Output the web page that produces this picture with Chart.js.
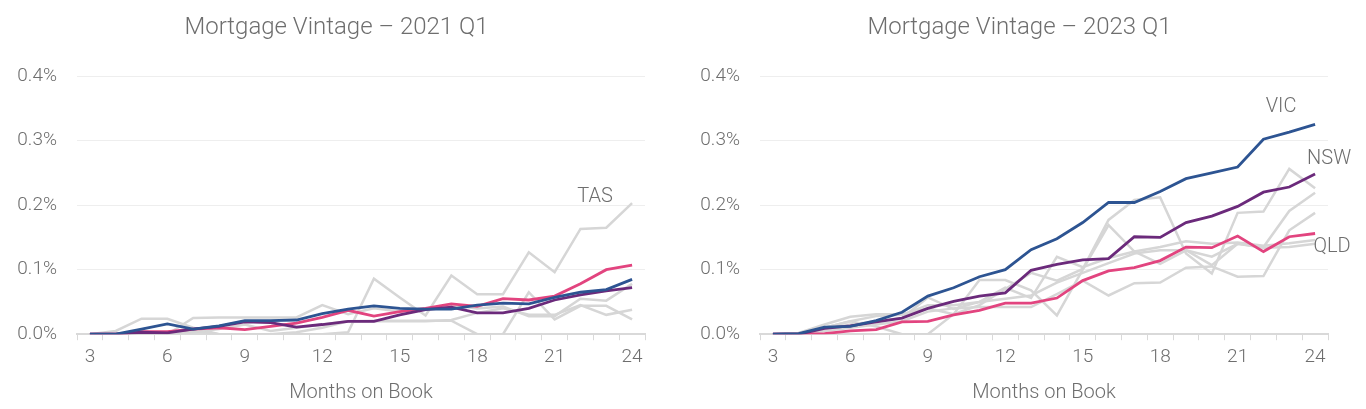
<!DOCTYPE html>
<html>
<head>
<meta charset="utf-8">
<script src="https://cdn.jsdelivr.net/npm/chart.js@4.4.0/dist/chart.umd.min.js"></script>
<style>
  body { margin: 0; background: #fff; }
  .wrap { display: flex; width: 1366px; height: 409px; }
  canvas { display: block; }
</style>
</head>
<body>
<div class="wrap">
  <canvas id="c2021" width="683" height="409"></canvas>
  <canvas id="c2023" width="683" height="409"></canvas>
</div>
<script>
// months on book, shared by both panels
const months = [3, 4, 5, 6, 7, 8, 9, 10, 11, 12, 13, 14, 15, 16, 17, 18, 19, 20, 21, 22, 23, 24];
const yTicks = [0, 0.1, 0.2, 0.3, 0.4];

// 2021 Q1 vintage (% in arrears)
const vic2021 = [0, 0, 0.008, 0.016, 0.008, 0.013, 0.021, 0.021, 0.022, 0.032, 0.039, 0.044, 0.040, 0.039, 0.039, 0.045, 0.048, 0.047, 0.057, 0.065, 0.069, 0.085];
const nsw2021 = [0, 0, 0.003, 0.002, 0.008, 0.012, 0.019, 0.018, 0.011, 0.015, 0.020, 0.020, 0.030, 0.038, 0.042, 0.033, 0.033, 0.040, 0.053, 0.061, 0.067, 0.072];
const qld2021 = [0, 0, 0.004, 0.004, 0.008, 0.010, 0.007, 0.012, 0.017, 0.026, 0.037, 0.028, 0.035, 0.040, 0.047, 0.043, 0.055, 0.053, 0.059, 0.078, 0.100, 0.107];
const tas2021 = [0, 0, 0, 0.002, 0.005, 0, 0, 0, 0, 0, 0.003, 0.086, 0.057, 0.029, 0.091, 0.062, 0.062, 0.127, 0.096, 0.163, 0.165, 0.203];
const wa2021  = [0, 0.005, 0.024, 0.024, 0.010, 0, 0, 0, 0.003, 0.010, 0.020, 0.021, 0.021, 0.021, 0.021, 0, 0, 0.065, 0.023, 0.044, 0.044, 0.023];
const sa2021  = [0, 0, 0, 0, 0.025, 0.026, 0.026, 0.026, 0.026, 0.045, 0.031, 0.040, 0.035, 0.040, 0.045, 0.040, 0.043, 0.028, 0.028, 0.055, 0.052, 0.078];
const act2021 = [0, 0, 0, 0, 0.003, 0.008, 0.015, 0.005, 0.010, 0.015, 0.020, 0.020, 0.020, 0.020, 0.022, 0.033, 0.040, 0.030, 0.030, 0.045, 0.030, 0.038];

// 2023 Q1 vintage
const vic2023 = [0, 0.001, 0.011, 0.012, 0.021, 0.034, 0.059, 0.072, 0.089, 0.100, 0.131, 0.148, 0.173, 0.204, 0.204, 0.221, 0.241, 0.250, 0.259, 0.302, 0.313, 0.325];
const nsw2023 = [0, 0, 0.009, 0.013, 0.019, 0.025, 0.040, 0.051, 0.059, 0.064, 0.099, 0.108, 0.115, 0.117, 0.151, 0.150, 0.173, 0.183, 0.198, 0.220, 0.228, 0.248];
const qld2023 = [0, 0, 0.001, 0.005, 0.007, 0.019, 0.020, 0.030, 0.037, 0.048, 0.048, 0.056, 0.083, 0.098, 0.103, 0.114, 0.135, 0.134, 0.152, 0.128, 0.151, 0.156];
const wa2023  = [0, 0.002, 0.015, 0.027, 0.031, 0.031, 0.040, 0.031, 0.045, 0.070, 0.095, 0.083, 0.101, 0.177, 0.208, 0.212, 0.125, 0.094, 0.188, 0.190, 0.256, 0.226];
const sa2023  = [0, 0.002, 0.010, 0.020, 0.012, 0, 0, 0.031, 0.084, 0.084, 0.068, 0.029, 0.100, 0.169, 0.128, 0.109, 0.130, 0.107, 0.140, 0.134, 0.135, 0.140];
const tas2023 = [0, 0, 0.008, 0.015, 0.020, 0.025, 0.057, 0.039, 0.050, 0.072, 0.056, 0.120, 0.104, 0.118, 0.128, 0.135, 0.144, 0.140, 0.142, 0.137, 0.141, 0.146];
const act2023 = [0, 0, 0.005, 0.010, 0.015, 0.020, 0.035, 0.040, 0.042, 0.042, 0.042, 0.062, 0.083, 0.060, 0.079, 0.080, 0.103, 0.105, 0.089, 0.090, 0.161, 0.188];
const nt2023  = [0, 0.001, 0.010, 0.020, 0.028, 0.030, 0.045, 0.045, 0.050, 0.055, 0.060, 0.080, 0.095, 0.110, 0.125, 0.130, 0.130, 0.120, 0.140, 0.135, 0.191, 0.219];

const BLUE = '#2d5492', PURPLE = '#6b2a7b', PINK = '#e2447f', GREY = '#d6d6d6';
const TXT = '#6e6e6e';
const FONT = 'Roboto';

// panel title (drawn by hand so it can sit off the plot centre) and
// state names next to the end of a series
const panelText = {
  id: 'panelText',
  afterDraw(chart, args, opts) {
    const ctx = chart.ctx;
    ctx.save();
    ctx.fillStyle = TXT;
    ctx.textAlign = 'center';
    ctx.textBaseline = 'middle';
    ctx.font = '300 24px ' + FONT;
    ctx.fillText(opts.title, chart.width / 2 - 5, 28);
    ctx.font = '300 20px ' + FONT;
    (opts.tags || []).forEach(t => {
      const meta = chart.getDatasetMeta(t.ds);
      const last = meta.data[meta.data.length - 1];
      ctx.fillText(chart.data.datasets[t.ds].label, last.x + t.dx, last.y + t.dy);
    });
    ctx.restore();
  }
};

function series(label, data, color) {
  return {
    label: label,
    data: data,
    borderColor: color,
    borderWidth: color === GREY ? 2.5 : 2.8,
    pointRadius: 0,
    tension: 0,
    fill: false
  };
}

function makeChart(id, title, datasets, tags) {
  new Chart(document.getElementById(id), {
    type: 'line',
    data: { labels: months, datasets: datasets },
    plugins: [panelText],
    options: {
      responsive: false,
      animation: false,
      layout: { padding: { left: 0, right: 38, top: 76, bottom: 0 } },
      plugins: {
        legend: { display: false },
        tooltip: { enabled: false },
        title: { display: false },
        panelText: { title: title, tags: tags }
      },
      scales: {
        x: {
          offset: true,
          grid: { offset: true, drawOnChartArea: false, drawTicks: true, tickLength: 6, color: '#d9d9d9' },
          border: { display: true, color: '#d9d9d9', width: 2 },
          ticks: {
            autoSkip: false,
            maxRotation: 0,
            padding: 6,
            color: TXT,
            font: { family: FONT, size: 19, weight: '300' },
            callback: function (v, i) { return months[i] % 3 === 0 ? String(months[i]) : ''; }
          },
          title: {
            display: true,
            text: 'Months on Book',
            color: TXT,
            font: { family: FONT, size: 20, weight: '300' },
            padding: { top: 6, bottom: 4 }
          }
        },
        y: {
          min: yTicks[0],
          max: yTicks[yTicks.length - 1],
          afterBuildTicks: function (scale) { scale.ticks = yTicks.map(v => ({ value: v })); },
          afterFit: function (scale) { scale.width = 77; },
          grid: { drawTicks: false, color: '#eeeeee' },
          border: { display: false },
          ticks: {
            padding: 20,
            color: TXT,
            font: { family: FONT, size: 19, weight: '300' },
            callback: v => v.toFixed(1) + '%'
          }
        }
      }
    }
  });
}

makeChart('c2021', 'Mortgage Vintage \u2013 2021 Q1', [
  series('VIC', vic2021, BLUE),
  series('NSW', nsw2021, PURPLE),
  series('QLD', qld2021, PINK),
  series('TAS', tas2021, GREY),
  series('WA', wa2021, GREY),
  series('SA', sa2021, GREY),
  series('ACT', act2021, GREY)
], [{ ds: 3, dx: -37, dy: -6 }]);

makeChart('c2023', 'Mortgage Vintage \u2013 2023 Q1', [
  series('VIC', vic2023, BLUE),
  series('NSW', nsw2023, PURPLE),
  series('QLD', qld2023, PINK),
  series('WA', wa2023, GREY),
  series('SA', sa2023, GREY),
  series('TAS', tas2023, GREY),
  series('ACT', act2023, GREY),
  series('NT', nt2023, GREY)
], [{ ds: 0, dx: -34, dy: -17 }, { ds: 1, dx: 14, dy: -15 }, { ds: 2, dx: 17, dy: 13 }]);
</script>
</body>
</html>
